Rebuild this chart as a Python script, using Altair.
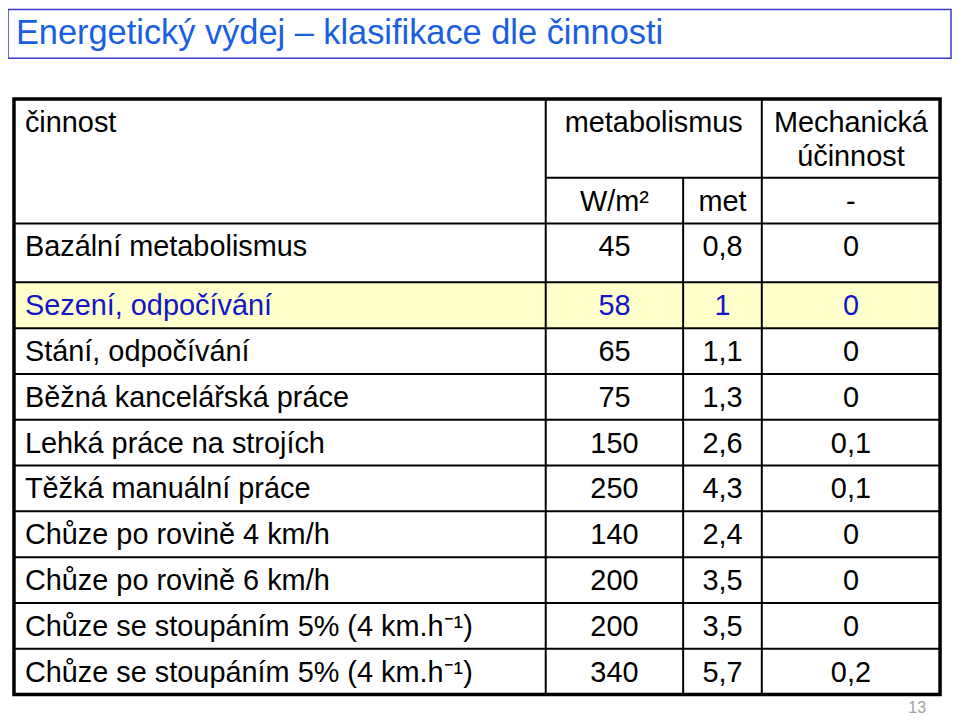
import altair as alt
import pandas as pd

# ---------------- data ----------------
title_text = "Energetický výdej – klasifikace dle činnosti"
page_number = "13"

header_activity = "činnost"
header_metab = "metabolismus"
header_mech = ["Mechanická", "účinnost"]
units = ["W/m²", "met", "-"]

activities = [
    "Bazální metabolismus",
    "Sezení, odpočívání",
    "Stání, odpočívání",
    "Běžná kancelářská práce",
    "Lehká práce na strojích",
    "Těžká manuální práce",
    "Chůze po rovině 4 km/h",
    "Chůze po rovině 6 km/h",
    "Chůze se stoupáním 5% (4 km.h⁻¹)",
    "Chůze se stoupáním 5% (4 km.h⁻¹)",
]
w_m2 = ["45", "58", "65", "75", "150", "250", "140", "200", "200", "340"]
met = ["0,8", "1", "1,1", "1,3", "2,6", "4,3", "2,4", "3,5", "3,5", "5,7"]
mech = ["0", "0", "0", "0", "0,1", "0,1", "0", "0", "0", "0,2"]
highlighted = "Sezení, odpočívání"

# ---------------- layout (screen pixels) ----------------
W, H = 948, 707
X0, Y0 = 8, 8
FONT = "Liberation Sans"
FS = 29

col_edges = [14, 548, 686, 765, 944]
table_top, head_split, head_bottom, first_bottom = 98, 177, 223, 282
row_h = 46
n_rest = len(activities) - 1
table_bottom = first_bottom + row_h * n_rest

row_tops = [head_bottom] + [first_bottom + row_h * i for i in range(n_rest)]
row_text_y = [247] + [first_bottom + row_h * i + 24 for i in range(n_rest)]
col_centers = [(col_edges[i] + col_edges[i + 1]) / 2 for i in range(1, 4)]
label_x = 25

xs = alt.Scale(domain=[X0, X0 + W], range=[0, W], nice=False, zero=False)
ys = alt.Scale(domain=[Y0, Y0 + H], range=[0, H], nice=False, zero=False)

def X(f):
    return alt.X(f, type="quantitative", scale=xs, axis=None)

def Y(f):
    return alt.Y(f, type="quantitative", scale=ys, axis=None)

# ---------------- title box ----------------
title_box = pd.DataFrame([{"x": 8, "x2": 955, "y": 8, "y2": 57}])
title_box_layer = alt.Chart(title_box).mark_rect(
    fill="white", stroke="#3a3ad0", strokeWidth=1.5
).encode(x=X("x"), x2="x2", y=Y("y"), y2="y2")

title_df = pd.DataFrame([{"x": 16, "y": 43, "t": title_text}])
title_layer = alt.Chart(title_df).mark_text(
    align="left", baseline="alphabetic", font=FONT, fontSize=34.5, color="#1a5fe0"
).encode(x=X("x"), y=Y("y"), text="t:N")

# ---------------- highlighted row ----------------
hi_idx = activities.index(highlighted)
hl_df = pd.DataFrame([{"x": col_edges[0], "x2": col_edges[-1],
                       "y": row_tops[hi_idx], "y2": row_tops[hi_idx] + row_h}])
hl_layer = alt.Chart(hl_df).mark_rect(fill="#ffffcc").encode(
    x=X("x"), x2="x2", y=Y("y"), y2="y2")

# ---------------- grid lines ----------------
lines = []
lines.append({"x": col_edges[1], "x2": col_edges[1], "y": table_top, "y2": table_bottom})
lines.append({"x": col_edges[2], "x2": col_edges[2], "y": head_split, "y2": table_bottom})
lines.append({"x": col_edges[3], "x2": col_edges[3], "y": table_top, "y2": table_bottom})
lines.append({"x": col_edges[1], "x2": col_edges[-1], "y": head_split, "y2": head_split})
for yy in row_tops:
    lines.append({"x": col_edges[0], "x2": col_edges[-1], "y": yy, "y2": yy})
lines_df = pd.DataFrame(lines)
lines_layer = alt.Chart(lines_df).mark_rule(color="black", strokeWidth=2).encode(
    x=X("x"), x2="x2", y=Y("y"), y2="y2")

border_df = pd.DataFrame([{"x": col_edges[0], "x2": col_edges[-1],
                           "y": table_top, "y2": table_bottom}])
border_layer = alt.Chart(border_df).mark_rect(
    fill=None, fillOpacity=0, stroke="black", strokeWidth=3.5
).encode(x=X("x"), x2="x2", y=Y("y"), y2="y2")

# ---------------- header texts ----------------
head_rows = [
    {"x": label_x, "y": 122, "t": header_activity, "a": "left"},
    {"x": (col_edges[1] + col_edges[3]) / 2, "y": 122, "t": header_metab, "a": "center"},
    {"x": col_centers[2], "y": 122, "t": header_mech[0], "a": "center"},
    {"x": col_centers[2], "y": 156, "t": header_mech[1], "a": "center"},
]
for i, u in enumerate(units):
    head_rows.append({"x": col_centers[i], "y": 201, "t": u, "a": "center"})
head_df = pd.DataFrame(head_rows)
head_left = alt.Chart(head_df[head_df.a == "left"]).mark_text(
    align="left", baseline="middle", font=FONT, fontSize=FS, color="black"
).encode(x=X("x"), y=Y("y"), text="t:N")
head_center = alt.Chart(head_df[head_df.a == "center"]).mark_text(
    align="center", baseline="middle", font=FONT, fontSize=FS, color="black"
).encode(x=X("x"), y=Y("y"), text="t:N")

# ---------------- body texts ----------------
body = []
for i, name in enumerate(activities):
    c = "#1414c8" if name == highlighted else "black"
    body.append({"x": label_x, "y": row_text_y[i], "t": name, "c": c, "a": "left"})
    for j, v in enumerate([w_m2[i], met[i], mech[i]]):
        body.append({"x": col_centers[j], "y": row_text_y[i], "t": v, "c": c, "a": "center"})
body_df = pd.DataFrame(body)
body_left = alt.Chart(body_df[body_df.a == "left"]).mark_text(
    align="left", baseline="middle", font=FONT, fontSize=FS
).encode(x=X("x"), y=Y("y"), text="t:N", color=alt.Color("c:N", scale=None))
body_center = alt.Chart(body_df[body_df.a == "center"]).mark_text(
    align="center", baseline="middle", font=FONT, fontSize=FS
).encode(x=X("x"), y=Y("y"), text="t:N", color=alt.Color("c:N", scale=None))

# ---------------- page number ----------------
pn_df = pd.DataFrame([{"x": 921, "y": 714, "t": page_number}])
pn_layer = alt.Chart(pn_df).mark_text(
    align="center", baseline="alphabetic", font=FONT, fontSize=16, color="#a0a0a0"
).encode(x=X("x"), y=Y("y"), text="t:N")

chart = alt.layer(
    title_box_layer, title_layer, hl_layer, lines_layer, border_layer,
    head_left, head_center, body_left, body_center, pn_layer
).properties(
    width=W, height=H, padding=0, autosize=alt.AutoSizeParams(type="none"),
    background="white"
).configure_view(strokeWidth=0)

chart.save("out.html", embed_options={"renderer": "svg", "actions": False})
